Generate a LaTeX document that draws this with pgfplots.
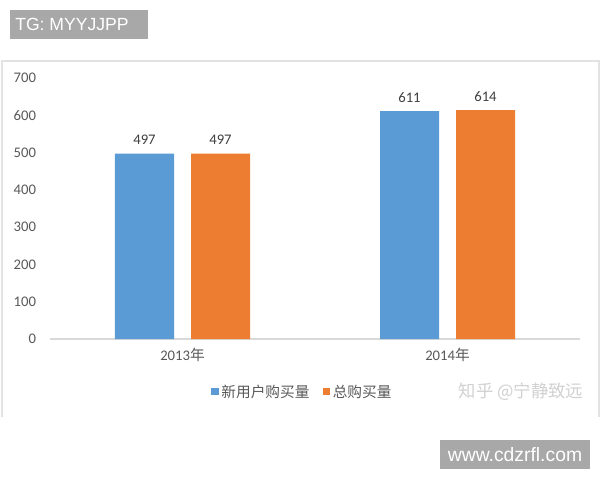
\documentclass[border=0pt]{standalone}
\usepackage{fontspec}
\setmainfont{Carlito}
\newfontfamily\cjk{Noto Sans CJK SC}
\newfontfamily\arialf{Liberation Sans}
\usepackage{pgfplots}
\pgfplotsset{compat=1.18}
\definecolor{xblue}{HTML}{5B9BD5}
\definecolor{xorange}{HTML}{ED7D31}
\definecolor{tickgray}{HTML}{595959}
\definecolor{valgray}{HTML}{404040}
\definecolor{wmgray}{HTML}{A8A8A8}
\definecolor{framegray}{HTML}{E2E2E2}
\definecolor{axisgray}{HTML}{D9D9D9}
\begin{document}
\begin{tikzpicture}[x=1pt,y=1pt]
\useasboundingbox (0,0) rectangle (450,360);
\fill[white] (0,0) rectangle (450,360);
% chart frame (no bottom edge)
\draw[framegray,line width=0.8pt] (1.5,47.25) -- (1.5,314.25) -- (449.25,314.25) -- (449.25,47.25);
\begin{axis}[
  at={(37.5pt,105.75pt)}, anchor=south west,
  scale only axis, width=397.5pt, height=195.75pt,
  ybar, bar width=44.25pt,
  xmin=-0.5, xmax=1.5, ymin=0, ymax=700,
  xtick={0,1}, xticklabels={2013{\cjk 年},2014{\cjk 年}},
  ytick={0,100,...,700},
  axis y line=none,
  axis x line*=bottom,
  x axis line style={draw=axisgray, line width=0.8pt, -},
  major tick length=0pt,
  ymajorgrids=false,
  tick label style={font=\fontsize{11}{13}\selectfont, text=tickgray},
  /pgf/number format/assume math mode=true,
  xticklabel style={yshift=-3pt},
  nodes near coords,
  nodes near coords style={font=\fontsize{11}{13}\selectfont, text=valgray, yshift=3pt},
  legend style={at={(0.477,-0.203)}, anchor=center, draw=none, fill=none,
    legend columns=-1, font=\cjk\fontsize{11}{13}\selectfont, text=tickgray,
    /tikz/every even column/.append style={column sep=8pt}},
  legend image code/.code={\fill[#1,draw=none] (0pt,-2.5pt) rectangle (5.5pt,3pt);},
  clip=false,
]
\addplot[fill=xblue, draw=none, bar shift=-28.5pt] coordinates {(0,497) (1,611)};
\addplot[fill=xorange, draw=none, bar shift=28.5pt] coordinates {(0,497) (1,614)};
\legend{新用户购买量,总购买量}
\end{axis}
\begin{axis}[
  at={(37.5pt,105.75pt)}, anchor=south west,
  scale only axis, width=397.5pt, height=195.75pt,
  xmin=-0.5, xmax=1.5, ymin=0, ymax=700,
  ytick={0,100,...,700}, xtick=\empty,
  axis line style={draw=none},
  major tick length=0pt,
  yticklabel style={font=\fontsize{11}{13}\selectfont, text=tickgray, xshift=-7pt},
  /pgf/number format/assume math mode=true,
]
\addplot[draw=none] coordinates {(0,0)};
\end{axis}
% watermark text
\node[text=black!18, font=\cjk\fontsize{13}{15}\selectfont, anchor=center] at (390.75,66) {知乎 @宁静致远};
% watermark boxes
\fill[wmgray] (7.5,330.75) rectangle (111,352.5);
\node[text=white, font=\arialf\fontsize{13.2}{15}\selectfont, anchor=west, inner sep=0pt] at (11.25,341.6) {TG: MYYJJPP};
\fill[wmgray] (330,8.25) rectangle (442.5,30);
\node[text=white, font=\arialf\fontsize{14.5}{16}\selectfont, anchor=center, inner sep=0pt] at (386.25,19.1) {www.cdzrfl.com};
\end{tikzpicture}
\end{document}
